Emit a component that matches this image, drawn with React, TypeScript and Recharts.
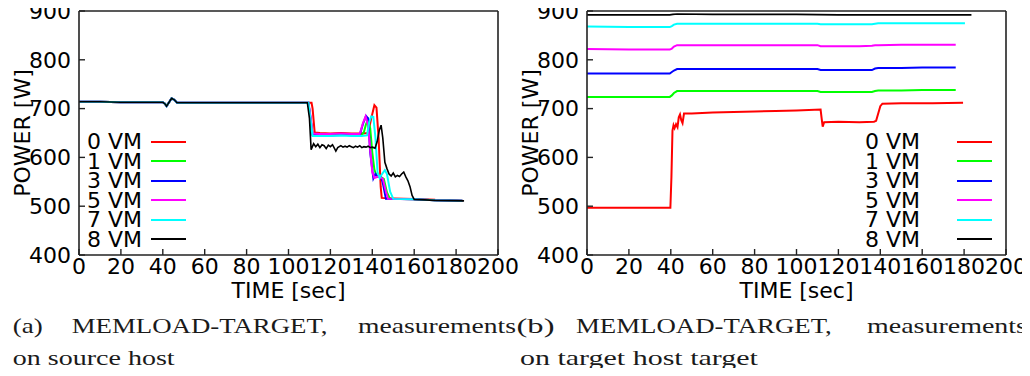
import React from "react";
import { LineChart, Line, XAxis, YAxis, Legend } from "recharts";

// series / ticks
const SERIES_NAMES = ["0 VM", "1 VM", "3 VM", "5 VM", "7 VM", "8 VM"];
const SERIES_COLORS = ["#ff0000", "#00ff00", "#0000ff", "#ff00ff", "#00ffff", "#000000"];
const SERIES_WIDTHS = [2, 2, 2, 2, 2, 1.6];
const X_TICKS = [0, 20, 40, 60, 80, 100, 120, 140, 160, 180, 200];
const Y_TICKS = [400, 500, 600, 700, 800, 900];

// (a) source host
const SRC_T_0 = [0, 10, 20, 30, 40, 41, 41.8, 43, 44.2, 45.5, 46.8, 60, 80, 100, 111, 111.5, 112.5, 115, 120, 125, 130, 135, 138, 139.5, 141, 142, 143, 144, 144.5, 150, 160, 170, 180, 183];
const SRC_W_0 = [714, 714, 713, 713, 713, 710, 705, 713, 721, 718, 712, 712, 712, 712, 712, 700, 651, 650, 649, 650, 649, 649, 650, 680, 707, 702, 640, 540, 517, 516, 515, 513, 512, 511];
const SRC_T_1 = [0, 10, 20, 30, 40, 41, 41.8, 43, 44.2, 45.5, 46.8, 60, 80, 100, 109.5, 110.5, 111.5, 115, 120, 125, 130, 135, 136, 137, 138, 139, 140, 141, 142, 144, 145.5, 147, 148.5, 160, 170, 183];
const SRC_W_1 = [714, 714, 713, 713, 713, 710, 705, 713, 721, 718, 712, 712, 712, 712, 712, 680, 647, 646, 646, 647, 646, 646, 652, 668, 677, 660, 610, 575, 563, 560, 556, 528, 515, 514, 512, 511];
const SRC_T_3 = [0, 10, 20, 30, 40, 41, 41.8, 43, 44.2, 45.5, 46.8, 60, 80, 100, 109.5, 110.5, 111.5, 115, 120, 125, 130, 134, 135.5, 137, 138, 139, 140.5, 141.5, 142.5, 144, 145, 146.5, 160, 170, 183];
const SRC_W_3 = [714, 714, 713, 713, 713, 710, 705, 713, 721, 718, 712, 712, 712, 712, 712, 680, 646, 646, 645, 646, 646, 646, 668, 685, 680, 610, 557, 566, 560, 562, 548, 515, 514, 512, 511];
const SRC_T_5 = [0, 10, 20, 30, 40, 41, 41.8, 43, 44.2, 45.5, 46.8, 60, 80, 100, 109.5, 110.5, 111.5, 115, 120, 125, 130, 134, 135.5, 136.8, 138, 139, 140, 141, 143, 145, 146.5, 147.5, 160, 170, 183];
const SRC_W_5 = [714, 714, 713, 713, 713, 710, 705, 713, 721, 718, 712, 712, 712, 712, 712, 685, 649, 648, 648, 649, 648, 648, 670, 684, 665, 615, 570, 558, 561, 556, 530, 515, 514, 512, 511];
const SRC_T_7 = [0, 10, 20, 30, 40, 41, 41.8, 43, 44.2, 45.5, 46.8, 60, 80, 100, 109.5, 110.5, 111.5, 115, 120, 125, 130, 135, 137.5, 138.5, 139.5, 140.5, 141.5, 142.5, 143.5, 144.5, 146, 147, 148.5, 150, 160, 170, 183];
const SRC_W_7 = [714, 714, 713, 713, 713, 710, 705, 713, 721, 718, 712, 712, 712, 712, 712, 678, 644, 644, 644, 645, 644, 644, 645, 672, 684, 683, 640, 570, 558, 565, 574, 566, 530, 515, 514, 512, 511];
const SRC_T_8 = [0, 10, 20, 30, 40, 41, 41.8, 43, 44.2, 45.5, 46.8, 60, 80, 100, 109, 110, 110.8, 112, 113, 114, 115, 116, 117, 118, 119, 120, 121, 122, 122.6, 123.5, 125, 126, 127, 128, 129, 130, 131, 132, 133, 134, 135, 136, 137, 138, 139, 140, 141.3, 142.3, 143.3, 144.2, 145, 146, 147, 148, 149, 150, 151, 152, 153, 154, 155, 156, 157, 158, 159, 160, 170, 183.8];
const SRC_W_8 = [714, 714, 713, 713, 713, 710, 705, 713, 721, 718, 712, 712, 712, 712, 712, 680, 616, 628, 622, 627, 620, 626, 624, 618, 625, 622, 626, 618, 613, 620, 624, 621, 623, 621, 624, 622, 620, 623, 621, 624, 620, 622, 621, 623, 620, 621, 619, 632, 655, 666, 640, 590, 577, 566, 562, 568, 560, 563, 561, 566, 570, 560, 552, 540, 522, 514, 512, 511];

// (b) target host
const TGT_T_0 = [0, 10, 20, 30, 39.8, 40.3, 40.8, 41.3, 41.8, 42.5, 43.2, 43.8, 44.4, 45, 45.6, 46.3, 50, 60, 70, 80, 90, 100, 111.5, 112, 112.5, 113.2, 120, 130, 137, 138, 139, 140, 141, 150, 165, 179.5];
const TGT_W_0 = [497, 497, 497, 497, 497, 560, 655, 666, 660, 668, 662, 682, 688, 676, 670, 690, 690, 692, 693, 694, 695, 696, 698, 680, 663, 672, 673, 672, 673, 675, 690, 705, 710, 711, 711, 712];
const TGT_T_1 = [0, 20, 39.5, 40.5, 41.5, 43, 60, 80, 100, 110, 111.5, 120, 130, 136, 137.5, 139, 150, 160, 176];
const TGT_W_1 = [724, 724, 724, 727, 732, 736, 736, 736, 736, 736, 734, 734, 734, 734, 736, 737, 737, 738, 738];
const TGT_T_3 = [0, 20, 39.5, 40.5, 41.5, 43, 60, 80, 100, 110, 111.5, 120, 130, 136, 137.5, 139, 150, 160, 176];
const TGT_W_3 = [772, 772, 772, 775, 778, 781, 781, 781, 781, 781, 779, 779, 779, 779, 782, 783, 783, 784, 784];
const TGT_T_5 = [0, 20, 39.5, 40.5, 41.5, 43, 60, 80, 100, 110, 111.5, 120, 130, 136, 137.5, 139, 150, 160, 176];
const TGT_W_5 = [822, 821, 821, 823, 827, 830, 830, 830, 830, 830, 828, 828, 828, 829, 830, 830, 831, 831, 831];
const TGT_T_7 = [0, 20, 39.5, 40.5, 41.5, 43, 60, 80, 100, 110, 111.5, 120, 130, 136, 137.5, 139, 150, 165, 180.4];
const TGT_W_7 = [868, 867, 867, 869, 872, 874, 874, 874, 874, 874, 873, 873, 873, 873, 874, 875, 875, 875, 875];
const TGT_T_8 = [0, 20, 39.5, 41, 43, 60, 80, 100, 120, 140, 160, 183.5];
const TGT_W_8 = [892, 892, 892, 893, 894, 893, 893, 893, 892, 892, 892, 892];

const FONT = "DejaVu Sans";
const SERIF = "Liberation Serif";
const AXIS_COLOR = "#222";
const TICK_LEN = 6;
const X_TICK_MARGIN = 3;
const Y_TICK_MARGIN = 8;
const ROW_H = 19.5;

type Pt = { t: number; w: number };
const toPoints = (ts: number[], ws: number[]): Pt[] => ts.map((t, i) => ({ t, w: ws[i] }));

const SOURCE = [
  toPoints(SRC_T_0, SRC_W_0),
  toPoints(SRC_T_1, SRC_W_1),
  toPoints(SRC_T_3, SRC_W_3),
  toPoints(SRC_T_5, SRC_W_5),
  toPoints(SRC_T_7, SRC_W_7),
  toPoints(SRC_T_8, SRC_W_8),
];
const TARGET = [
  toPoints(TGT_T_0, TGT_W_0),
  toPoints(TGT_T_1, TGT_W_1),
  toPoints(TGT_T_3, TGT_W_3),
  toPoints(TGT_T_5, TGT_W_5),
  toPoints(TGT_T_7, TGT_W_7),
  toPoints(TGT_T_8, TGT_W_8),
];

const BottomTick = (p: any) => {
  const base = p.y - X_TICK_MARGIN;
  return (
    <g>
      <line x1={p.x} x2={p.x} y1={base} y2={base - TICK_LEN} stroke={AXIS_COLOR} strokeWidth={1.4} />
      <text x={p.x} y={p.y} dy="0.71em" textAnchor="middle" fontSize={22} fontFamily={FONT} fill="#000">
        {p.payload.value}
      </text>
    </g>
  );
};

const TopTick = (p: any) => (
  <line x1={p.x} x2={p.x} y1={p.y} y2={p.y + TICK_LEN} stroke={AXIS_COLOR} strokeWidth={1.4} />
);

const LeftTick = (p: any) => {
  const base = p.x + Y_TICK_MARGIN;
  return (
    <g>
      <line x1={base} x2={base + TICK_LEN} y1={p.y} y2={p.y} stroke={AXIS_COLOR} strokeWidth={1.4} />
      <text x={p.x} y={p.y} dy="0.355em" textAnchor="end" fontSize={22} fontFamily={FONT} fill="#000">
        {p.payload.value}
      </text>
    </g>
  );
};

const RightTick = (p: any) => (
  <line x1={p.x} x2={p.x - TICK_LEN} y1={p.y} y2={p.y} stroke={AXIS_COLOR} strokeWidth={1.4} />
);

const xTitle = (props: any) => {
  const vb = props.viewBox;
  return (
    <text x={vb.x + vb.width / 2} y={vb.y + 43} textAnchor="middle" fontSize={22} fontFamily={FONT} fill="#000">
      TIME [sec]
    </text>
  );
};

const yTitle = (props: any) => {
  const vb = props.viewBox;
  const cx = vb.x + 22;
  const cy = vb.y + vb.height / 2;
  return (
    <text x={cx} y={cy} dy="0.355em" textAnchor="middle" transform={`rotate(-90, ${cx}, ${cy})`} fontSize={22} fontFamily={FONT} fill="#000">
      POWER [W]
    </text>
  );
};

function makeLegend(textWidth: number, gap: number) {
  return (props: any) => {
    const items = [...(props.payload ?? [])].sort(
      (a: any, b: any) => SERIES_NAMES.indexOf(a.value) - SERIES_NAMES.indexOf(b.value)
    );
    return (
      <div style={{ fontFamily: FONT, fontSize: 22, color: "#000" }}>
        {items.map((it: any) => (
          <div key={it.value} style={{ display: "flex", alignItems: "center", height: ROW_H, lineHeight: `${ROW_H}px` }}>
            <span style={{ display: "inline-block", width: textWidth, textAlign: "right", whiteSpace: "nowrap" }}>{it.value}</span>
            <span style={{ display: "inline-block", width: 35, height: 0, borderTop: `2px solid ${it.color}`, marginLeft: gap }} />
          </div>
        ))}
      </div>
    );
  };
}

function PowerChart({ series, legendLeft, legendGap }: { series: Pt[][]; legendLeft: number; legendGap: number }) {
  return (
    <LineChart width={520} height={310} margin={{ top: 10, right: 21, left: 0, bottom: 0 }}>
      <XAxis
        xAxisId="b"
        dataKey="t"
        type="number"
        domain={[0, 200]}
        ticks={X_TICKS}
        interval={0}
        height={55}
        tickSize={0}
        tickMargin={X_TICK_MARGIN}
        tick={BottomTick}
        axisLine={{ stroke: AXIS_COLOR, strokeWidth: 1.6 }}
        label={{ content: xTitle }}
      />
      <XAxis
        xAxisId="t"
        orientation="top"
        type="number"
        domain={[0, 200]}
        ticks={X_TICKS}
        interval={0}
        height={1}
        tickSize={0}
        tickMargin={0}
        tick={TopTick}
        axisLine={{ stroke: AXIS_COLOR, strokeWidth: 1.6 }}
      />
      <YAxis
        yAxisId="l"
        type="number"
        domain={[400, 900]}
        ticks={Y_TICKS}
        interval={0}
        width={79}
        tickSize={0}
        tickMargin={Y_TICK_MARGIN}
        tick={LeftTick}
        axisLine={{ stroke: AXIS_COLOR, strokeWidth: 1.6 }}
        label={{ content: yTitle }}
      />
      <YAxis
        yAxisId="r"
        orientation="right"
        type="number"
        domain={[400, 900]}
        ticks={Y_TICKS}
        interval={0}
        width={1}
        tickSize={0}
        tickMargin={0}
        tick={RightTick}
        axisLine={{ stroke: AXIS_COLOR, strokeWidth: 1.6 }}
      />
      {series.map((pts, i) => (
        <Line
          key={SERIES_NAMES[i]}
          xAxisId="b"
          yAxisId="l"
          data={pts}
          dataKey="w"
          name={SERIES_NAMES[i]}
          type="linear"
          stroke={SERIES_COLORS[i]}
          strokeWidth={SERIES_WIDTHS[i]}
          dot={false}
          activeDot={false}
          isAnimationActive={false}
        />
      ))}
      <Legend
        layout="vertical"
        align="center"
        verticalAlign="middle"
        content={makeLegend(62, legendGap)}
        wrapperStyle={{ left: legendLeft, top: 132, width: "auto", height: "auto" }}
      />
    </LineChart>
  );
}

const CAPTIONS: { text: string; x: number; w: number; line: number }[] = [
  { text: "(a)", x: 12.7, w: 30, line: 0 },
  { text: "MEMLOAD-TARGET,", x: 71.7, w: 256, line: 0 },
  { text: "measurements", x: 358, w: 158, line: 0 },
  { text: "(b)", x: 516.5, w: 38, line: 0 },
  { text: "MEMLOAD-TARGET,", x: 576, w: 256, line: 0 },
  { text: "measurements", x: 867, w: 160, line: 0 },
  { text: "on source host", x: 12.7, w: 162, line: 1 },
  { text: "on target host target", x: 520, w: 238, line: 1 },
];

const CAPTION_FONT = `21px "${SERIF}"`;
let measureCtx: CanvasRenderingContext2D | null = null;
function naturalWidth(text: string) {
  if (!measureCtx) measureCtx = document.createElement("canvas").getContext("2d");
  if (!measureCtx) return text.length * 10;
  measureCtx.font = CAPTION_FONT;
  return measureCtx.measureText(text).width;
}

export default function App() {
  return (
    <div style={{ position: "relative", width: 1030, height: 376, margin: -8, background: "#fff", overflow: "hidden" }}>
      <div style={{ position: "absolute", left: 0, top: 0 }}>
        <PowerChart series={SOURCE} legendLeft={80} legendGap={9} />
      </div>
      <div style={{ position: "absolute", left: 508, top: 0 }}>
        <PowerChart series={TARGET} legendLeft={350} legendGap={37} />
      </div>
      <svg width={1030} height={70} style={{ position: "absolute", left: 0, top: 306 }}>
        {CAPTIONS.map((c, i) => {
          const sx = c.w / naturalWidth(c.text);
          return (
            <text
              key={i}
              transform={`translate(${c.x} ${27 + c.line * 32}) scale(${sx} 1)`}
              fontFamily={SERIF}
              fontSize={21}
              fill="#1a1a1a"
            >
              {c.text}
            </text>
          );
        })}
      </svg>
    </div>
  );
}
